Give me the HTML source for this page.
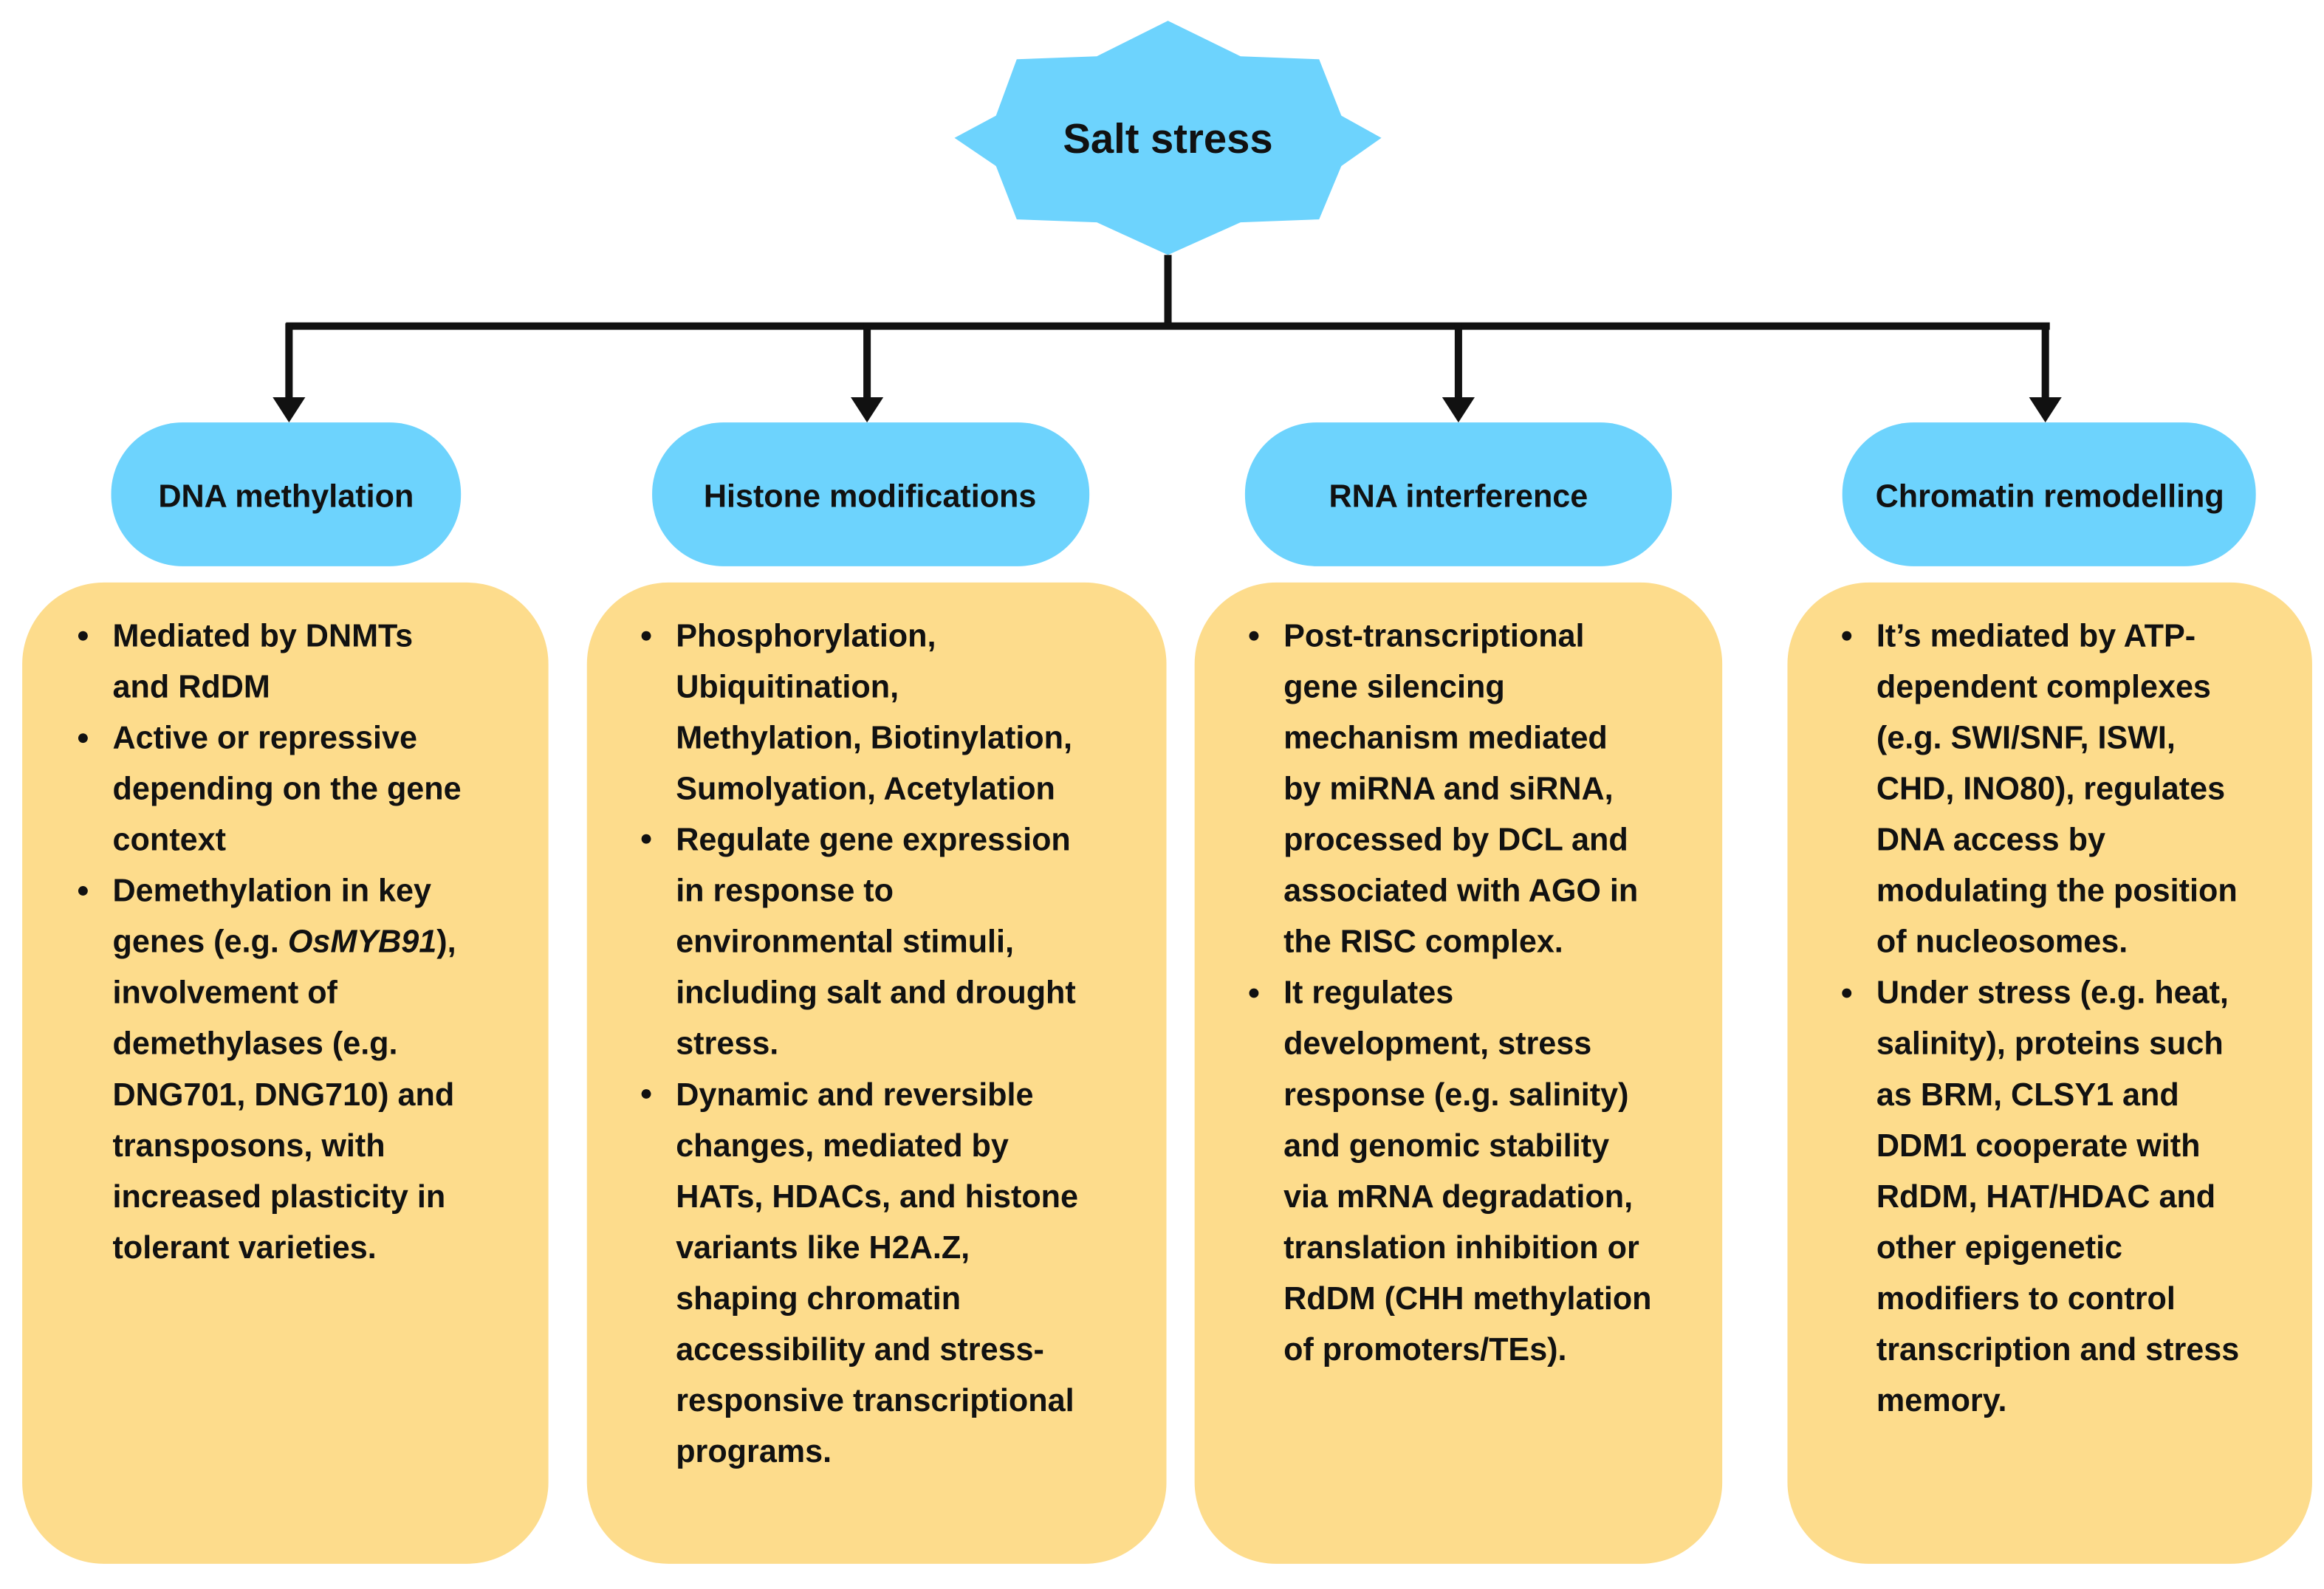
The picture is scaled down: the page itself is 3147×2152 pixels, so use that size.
<!DOCTYPE html>
<html><head><meta charset="utf-8"><style>
html,body{margin:0;padding:0;background:#fff;}
svg{display:block;}
text{font-family:"Liberation Sans",Arial,sans-serif;font-weight:bold;fill:#111;}
</style></head><body>
<svg width="3147" height="2152" viewBox="0 0 1568 1072" preserveAspectRatio="none" xmlns="http://www.w3.org/2000/svg">
<rect width="1568" height="1072" fill="#fff"/>
<polygon points="788,14 837,38 890,40 905,78 932,93 905,112 890,148 837,150 788,172 740,150 686,148 672,112 644,93 672,78 686,40 740,38" fill="#6dd3fd"/>
<text x="788" y="103" font-size="28" text-anchor="middle">Salt stress</text>
<g stroke="#111" stroke-width="5" fill="none">
<line x1="788" y1="172" x2="788" y2="220"/>
<line x1="193" y1="220" x2="1383" y2="220"/>
<line x1="195" y1="218" x2="195" y2="272"/>
<line x1="585" y1="218" x2="585" y2="272"/>
<line x1="984" y1="218" x2="984" y2="272"/>
<line x1="1380" y1="218" x2="1380" y2="272"/>
</g>
<g fill="#111">
<polygon points="184,268 206,268 195,285"/>
<polygon points="574,268 596,268 585,285"/>
<polygon points="973,268 995,268 984,285"/>
<polygon points="1369,268 1391,268 1380,285"/>
</g>
<g fill="#6dd3fd">
<rect x="75" y="285" width="236" height="97" rx="48" ry="48"/>
<rect x="440" y="285" width="295" height="97" rx="48" ry="48"/>
<rect x="840" y="285" width="288" height="97" rx="48" ry="48"/>
<rect x="1243" y="285" width="279" height="97" rx="48" ry="48"/>
</g>
<g font-size="21.5" text-anchor="middle">
<text x="193" y="342">DNA methylation</text>
<text x="587" y="342">Histone modifications</text>
<text x="984" y="342">RNA interference</text>
<text x="1383" y="342">Chromatin remodelling</text>
</g>
<g fill="#fddc8c">
<rect x="15" y="393" width="355" height="662" rx="55" ry="55"/>
<rect x="396" y="393" width="391" height="662" rx="55" ry="55"/>
<rect x="806" y="393" width="356" height="662" rx="55" ry="55"/>
<rect x="1206" y="393" width="354" height="662" rx="55" ry="55"/>
</g>
<g font-size="21.5">
<text x="76" y="436">
<tspan x="76" y="436">Mediated by DNMTs</tspan>
<tspan x="76" dy="34.4">and RdDM</tspan>
<tspan x="76" dy="34.4">Active or repressive</tspan>
<tspan x="76" dy="34.4">depending on the gene</tspan>
<tspan x="76" dy="34.4">context</tspan>
<tspan x="76" dy="34.4">Demethylation in key</tspan>
<tspan x="76" dy="34.4">genes (e.g. <tspan font-style="italic">OsMYB91</tspan>),</tspan>
<tspan x="76" dy="34.4">involvement of</tspan>
<tspan x="76" dy="34.4">demethylases (e.g.</tspan>
<tspan x="76" dy="34.4">DNG701, DNG710) and</tspan>
<tspan x="76" dy="34.4">transposons, with</tspan>
<tspan x="76" dy="34.4">increased plasticity in</tspan>
<tspan x="76" dy="34.4">tolerant varieties.</tspan>
</text>
<text x="456" y="436">
<tspan x="456" y="436">Phosphorylation,</tspan>
<tspan x="456" dy="34.4">Ubiquitination,</tspan>
<tspan x="456" dy="34.4">Methylation, Biotinylation,</tspan>
<tspan x="456" dy="34.4">Sumolyation, Acetylation</tspan>
<tspan x="456" dy="34.4">Regulate gene expression</tspan>
<tspan x="456" dy="34.4">in response to</tspan>
<tspan x="456" dy="34.4">environmental stimuli,</tspan>
<tspan x="456" dy="34.4">including salt and drought</tspan>
<tspan x="456" dy="34.4">stress.</tspan>
<tspan x="456" dy="34.4">Dynamic and reversible</tspan>
<tspan x="456" dy="34.4">changes, mediated by</tspan>
<tspan x="456" dy="34.4">HATs, HDACs, and histone</tspan>
<tspan x="456" dy="34.4">variants like H2A.Z,</tspan>
<tspan x="456" dy="34.4">shaping chromatin</tspan>
<tspan x="456" dy="34.4">accessibility and stress-</tspan>
<tspan x="456" dy="34.4">responsive transcriptional</tspan>
<tspan x="456" dy="34.4">programs.</tspan>
</text>
<text x="866" y="436">
<tspan x="866" y="436">Post-transcriptional</tspan>
<tspan x="866" dy="34.4">gene silencing</tspan>
<tspan x="866" dy="34.4">mechanism mediated</tspan>
<tspan x="866" dy="34.4">by miRNA and siRNA,</tspan>
<tspan x="866" dy="34.4">processed by DCL and</tspan>
<tspan x="866" dy="34.4">associated with AGO in</tspan>
<tspan x="866" dy="34.4">the RISC complex.</tspan>
<tspan x="866" dy="34.4">It regulates</tspan>
<tspan x="866" dy="34.4">development, stress</tspan>
<tspan x="866" dy="34.4">response (e.g. salinity)</tspan>
<tspan x="866" dy="34.4">and genomic stability</tspan>
<tspan x="866" dy="34.4">via mRNA degradation,</tspan>
<tspan x="866" dy="34.4">translation inhibition or</tspan>
<tspan x="866" dy="34.4">RdDM (CHH methylation</tspan>
<tspan x="866" dy="34.4">of promoters/TEs).</tspan>
</text>
<text x="1266" y="436">
<tspan x="1266" y="436">It’s mediated by ATP-</tspan>
<tspan x="1266" dy="34.4">dependent complexes</tspan>
<tspan x="1266" dy="34.4">(e.g. SWI/SNF, ISWI,</tspan>
<tspan x="1266" dy="34.4">CHD, INO80), regulates</tspan>
<tspan x="1266" dy="34.4">DNA access by</tspan>
<tspan x="1266" dy="34.4">modulating the position</tspan>
<tspan x="1266" dy="34.4">of nucleosomes.</tspan>
<tspan x="1266" dy="34.4">Under stress (e.g. heat,</tspan>
<tspan x="1266" dy="34.4">salinity), proteins such</tspan>
<tspan x="1266" dy="34.4">as BRM, CLSY1 and</tspan>
<tspan x="1266" dy="34.4">DDM1 cooperate with</tspan>
<tspan x="1266" dy="34.4">RdDM, HAT/HDAC and</tspan>
<tspan x="1266" dy="34.4">other epigenetic</tspan>
<tspan x="1266" dy="34.4">modifiers to control</tspan>
<tspan x="1266" dy="34.4">transcription and stress</tspan>
<tspan x="1266" dy="34.4">memory.</tspan>
</text>
</g>
<g fill="#111">
<circle cx="56" cy="429" r="3.2"/><circle cx="56" cy="498" r="3.2"/><circle cx="56" cy="601" r="3.2"/>
<circle cx="436" cy="429" r="3.2"/><circle cx="436" cy="566" r="3.2"/><circle cx="436" cy="738" r="3.2"/>
<circle cx="846" cy="429" r="3.2"/><circle cx="846" cy="670" r="3.2"/>
<circle cx="1246" cy="429" r="3.2"/><circle cx="1246" cy="670" r="3.2"/>
</g>
</svg>
</body></html>
